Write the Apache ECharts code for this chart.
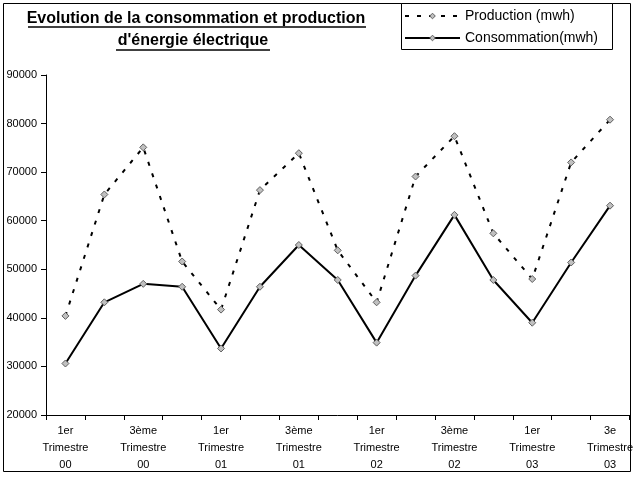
<!DOCTYPE html>
<html>
<head>
<meta charset="utf-8">
<script src="https://cdn.jsdelivr.net/npm/echarts@6/dist/echarts.min.js"></script>
<style>
html,body{margin:0;padding:0;background:#fff;}
#chart{width:636px;height:477px;}
</style>
</head>
<body>
<div id="chart"></div>
<script>
const categories = [
  "1er\nTrimestre\n00", "2ème\nTrimestre\n00", "3ème\nTrimestre\n00", "4ème\nTrimestre\n00",
  "1er\nTrimestre\n01", "2ème\nTrimestre\n01", "3ème\nTrimestre\n01", "4ème\nTrimestre\n01",
  "1er\nTrimestre\n02", "2ème\nTrimestre\n02", "3ème\nTrimestre\n02", "4ème\nTrimestre\n02",
  "1er\nTrimestre\n03", "2e\nTrimestre\n03", "3e\nTrimestre\n03"
];
const production = [40400, 65400, 75100, 51600, 41700, 66300, 73900, 53900, 43200, 69100, 77400, 57400, 48000, 72000, 80800];
const consommation = [30600, 43200, 47000, 46400, 33700, 46400, 55000, 47800, 34900, 48700, 61200, 47800, 39000, 51400, 63100];
const titleLines = ["Evolution de la consommation et production", "d'énergie électrique"];
const seriesNames = ["Production (mwh)", "Consommation(mwh)"];

const FONT = "'Liberation Sans', Arial, sans-serif";
const chart = echarts.init(document.getElementById('chart'), null, {renderer: 'canvas'});
const markerStyle = {color: '#c0c0c0', borderColor: '#606060', borderWidth: 1};

chart.setOption({
  animation: false,
  backgroundColor: '#fff',
  title: [
    {text: titleLines[0], left: 196, top: 11, textAlign: 'center', padding: 0,
     textStyle: {fontFamily: FONT, fontSize: 16, fontWeight: 'bold', color: '#000'}},
    {text: titleLines[1], left: 193, top: 33, textAlign: 'center', padding: 0,
     textStyle: {fontFamily: FONT, fontSize: 16, fontWeight: 'bold', color: '#000'}}
  ],
  graphic: [
    {type: 'rect', shape: {x: 3.5, y: 3.5, width: 627, height: 468}, style: {fill: 'none', stroke: '#000', lineWidth: 1}, z: 0},
    {type: 'rect', shape: {x: 401.5, y: 3.5, width: 211, height: 46}, style: {fill: '#fff', stroke: '#000', lineWidth: 1}, z: 1},
    {type: 'line', shape: {x1: 28, y1: 27, x2: 366, y2: 27}, style: {stroke: '#000', lineWidth: 1.5}},
    {type: 'line', shape: {x1: 116, y1: 50, x2: 270, y2: 50}, style: {stroke: '#000', lineWidth: 1.5}}
  ],
  legend: {
    orient: 'vertical',
    left: 404, top: 9, padding: 0,
    itemWidth: 55, itemHeight: 7, itemGap: 8,
    z: 5,
    itemStyle: {borderWidth: 1},
    textStyle: {fontFamily: FONT, fontSize: 14, lineHeight: 14, color: '#000'},
    data: seriesNames
  },
  grid: {left: 46, right: 5, top: 75, bottom: 62, containLabel: false},
  xAxis: {
    type: 'category',
    data: categories,
    boundaryGap: true,
    axisLine: {lineStyle: {color: '#000', width: 1}},
    axisTick: {show: true, interval: 0, length: 5, alignWithLabel: false, lineStyle: {color: '#000'}},
    axisLabel: {interval: 1, margin: 7, fontFamily: FONT, fontSize: 11, color: '#000', lineHeight: 17},
    splitLine: {show: false}
  },
  yAxis: {
    type: 'value',
    min: 20000, max: 90000, interval: 10000,
    axisLine: {show: true, lineStyle: {color: '#000', width: 1}},
    axisTick: {show: true, length: 5, lineStyle: {color: '#000'}},
    axisLabel: {margin: 9, fontFamily: FONT, fontSize: 11, color: '#000', formatter: v => String(v)},
    splitLine: {show: false}
  },
  series: [
    {
      name: seriesNames[0], type: 'line', data: production,
      symbol: 'diamond', symbolSize: 7,
      lineStyle: {color: '#000', width: 2, type: [4, 8]},
      itemStyle: markerStyle
    },
    {
      name: seriesNames[1], type: 'line', data: consommation,
      symbol: 'diamond', symbolSize: 7,
      lineStyle: {color: '#000', width: 2, type: 'solid'},
      itemStyle: markerStyle
    }
  ]
});
</script>
</body>
</html>
